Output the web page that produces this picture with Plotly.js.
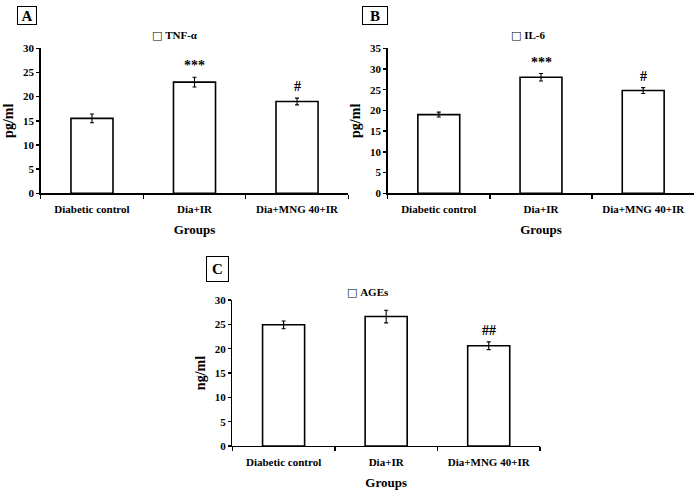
<!DOCTYPE html>
<html>
<head>
<meta charset="utf-8">
<script src="https://cdn.plot.ly/plotly-3.0.1.min.js"></script>
<style>html,body{margin:0;padding:0;background:#fff;}#chart{width:697px;height:492px;}</style>
</head>
<body>
<div id="chart"></div>
<script>
var categories = ['Diabetic control', 'Dia+IR', 'Dia+MNG 40+IR'];
var tnfValues = [15.5, 23.0, 19.0];
var tnfErrors = [0.9, 1.0, 0.7];
var tnfSig = ['', '***', '#'];
var il6Values = [19.0, 28.0, 24.8];
var il6Errors = [0.6, 0.9, 0.7];
var il6Sig = ['', '***', '#'];
var agesValues = [24.9, 26.6, 20.6];
var agesErrors = [0.8, 1.3, 0.8];
var agesSig = ['', '', '##'];
var yTicks30 = [0, 5, 10, 15, 20, 25, 30];
var yTicks35 = [0, 5, 10, 15, 20, 25, 30, 35];
var panelLetters = ['A', 'B', 'C'];
var seriesNames = ['TNF-α', 'IL-6', 'AGEs'];
var yTitles = ['pg/ml', 'pg/ml', 'ng/ml'];
var xTitle = 'Groups';

var FONT = 'Liberation Serif';
function bold(v) { return '<b>' + v + '</b>'; }

function barTrace(vals, errs, xa, ya, name) {
  return {
    type: 'bar', x: categories, y: vals, name: name, xaxis: xa, yaxis: ya,
    width: 0.41,
    marker: {color: '#ffffff', line: {color: '#000000', width: 1.6}},
    error_y: {type: 'data', array: errs, visible: true, color: '#000000', thickness: 1.1, width: 2},
    showlegend: false, hoverinfo: 'x+y'
  };
}

var data = [
  barTrace(tnfValues, tnfErrors, 'x', 'y', seriesNames[0]),
  barTrace(il6Values, il6Errors, 'x2', 'y2', seriesNames[1]),
  barTrace(agesValues, agesErrors, 'x3', 'y3', seriesNames[2])
];

function xAxis(domain, anchor) {
  return {
    domain: domain, anchor: anchor, type: 'category',
    showline: true, linecolor: '#000', linewidth: 1.4,
    ticks: 'outside', tickson: 'boundaries', ticklen: 4, tickcolor: '#000', tickwidth: 1.4,
    showgrid: false, zeroline: false,
    tickmode: 'array', tickvals: categories, ticktext: categories.map(bold), ticklabelstandoff: 5,
    tickfont: {family: FONT, size: 11, color: '#000', weight: 700},
    title: {text: bold(xTitle), font: {family: FONT, size: 13, color: '#000', weight: 700}, standoff: 11}
  };
}
function yAxis(domain, anchor, range, ticks, title) {
  return {
    domain: domain, anchor: anchor, range: range,
    showline: true, linecolor: '#000', linewidth: 1.4,
    ticks: 'outside', ticklen: 3, tickcolor: '#000', tickwidth: 1.4,
    showgrid: false, zeroline: false,
    tickmode: 'array', tickvals: ticks, ticktext: ticks.map(bold),
    tickfont: {family: FONT, size: 11, color: '#000', weight: 700},
    title: {text: bold(title), font: {family: FONT, size: 14, color: '#000', weight: 700}, standoff: 6}
  };
}

var W = 697, H = 492;
function px(x) { return x / W; }
function py(y) { return 1 - y / H; }

var annotations = [];
var letterBoxes = [[27, 15.5, 18, 17], [375, 15.5, 24, 17], [217.5, 269, 21, 24]];
for (var i = 0; i < 3; i++) {
  var b = letterBoxes[i];
  annotations.push({
    xref: 'paper', yref: 'paper', x: px(b[0]), y: py(b[1]), xanchor: 'center', yanchor: 'middle',
    text: bold(panelLetters[i]), showarrow: false, width: b[2], height: b[3],
    bordercolor: '#000', borderwidth: 1, borderpad: 0,
    font: {family: FONT, size: 15, color: '#000'}
  });
}
var legendPos = [[175, 35.5], [527.5, 35], [368, 292.5]];
for (var j = 0; j < 3; j++) {
  annotations.push({
    xref: 'paper', yref: 'paper', x: px(legendPos[j][0]), y: py(legendPos[j][1]), xanchor: 'center', yanchor: 'middle',
    text: '<span style="font-family:DejaVu Sans;font-size:11px">□</span> ' + bold(seriesNames[j]), showarrow: false,
    font: {family: FONT, size: 11, color: '#000'}
  });
}
var sets = [[tnfValues, tnfErrors, tnfSig, 'x', 'y'], [il6Values, il6Errors, il6Sig, 'x2', 'y2'], [agesValues, agesErrors, agesSig, 'x3', 'y3']];
sets.forEach(function (s) {
  for (var k = 0; k < categories.length; k++) {
    if (!s[2][k]) continue;
    annotations.push({
      xref: s[3], yref: s[4], x: categories[k], y: s[0][k] + s[1][k], xanchor: 'center', yanchor: 'bottom',
      yshift: 2, text: bold(s[2][k]), showarrow: false,
      font: {family: FONT, size: 14, color: '#000'}
    });
  }
});

var layout = {
  width: W, height: H,
  margin: {l: 0, r: 0, t: 0, b: 0},
  paper_bgcolor: '#fff', plot_bgcolor: '#fff',
  showlegend: false,
  xaxis: xAxis([px(40.7), px(348.3)], 'y'),
  yaxis: yAxis([py(193.3), py(48.3)], 'x', [0, 30], yTicks30, yTitles[0]),
  xaxis2: xAxis([px(387.7), px(694.3)], 'y2'),
  yaxis2: yAxis([py(193.3), py(48.3)], 'x2', [0, 35], yTicks35, yTitles[1]),
  xaxis3: xAxis([px(232.3), px(540)], 'y3'),
  yaxis3: yAxis([py(446), py(300)], 'x3', [0, 30], yTicks30, yTitles[2]),
  annotations: annotations
};

Plotly.newPlot('chart', data, layout, {displayModeBar: false, staticPlot: true});
</script>
</body>
</html>
